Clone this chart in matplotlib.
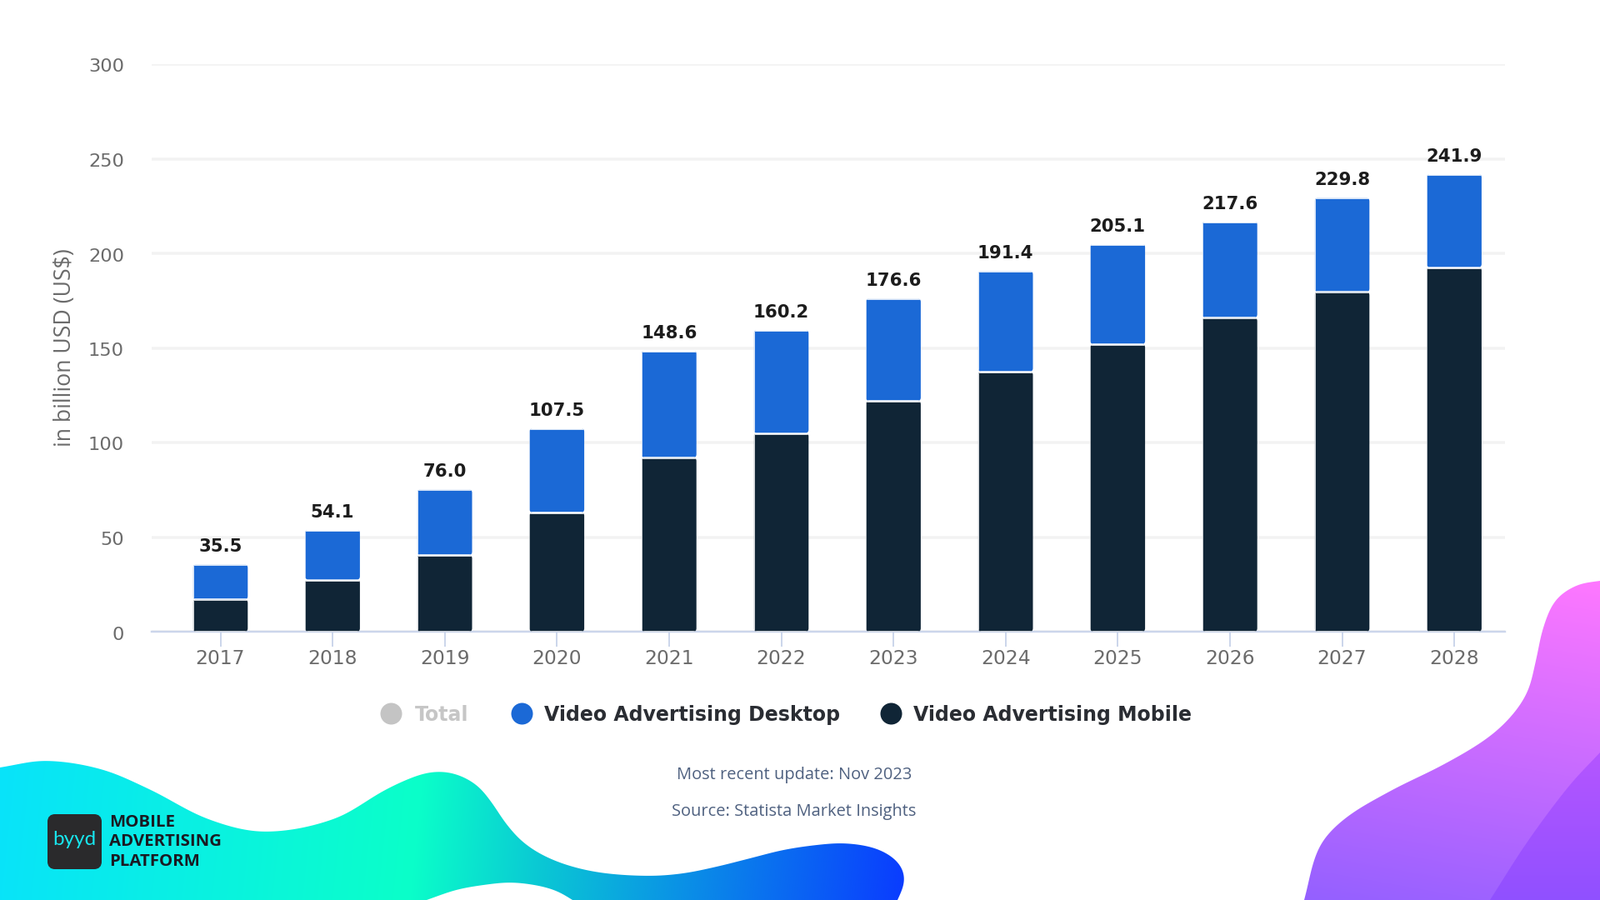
import numpy as np
import matplotlib
matplotlib.use("Agg")
import matplotlib.pyplot as plt
from matplotlib.path import Path
from matplotlib.patches import PathPatch, FancyBboxPatch
from matplotlib.transforms import ScaledTranslation
from matplotlib.colors import to_rgb

years = ["2017", "2018", "2019", "2020", "2021", "2022", "2023", "2024", "2025", "2026", "2027", "2028"]
mobile = [17.0, 27.5, 40.5, 63.0, 92.0, 105.0, 122.0, 137.5, 152.0, 166.0, 179.6, 192.6]
desktop = [18.5, 26.4, 34.7, 44.5, 56.6, 54.5, 54.1, 53.1, 53.0, 50.9, 49.7, 49.3]
totals = [35.5, 54.1, 76.0, 107.5, 148.6, 160.2, 176.6, 191.4, 205.1, 217.6, 229.8, 241.9]
yticks = [0, 50, 100, 150, 200, 250, 300]

DARK = "#102536"
BLUE = "#1b69d6"
GRID = "#f2f2f2"
AXIS = "#ccd6eb"
TICKC = "#6b6b6b"
W, H = 1920, 1080
PX = 72 / 100

fig = plt.figure(figsize=(19.2, 10.8), dpi=100, facecolor="white")

# ---------- decorative background, pixel coordinates ----------
bg = fig.add_axes([0, 0, 1, 1], zorder=0)
bg.set_xlim(0, W)
bg.set_ylim(H, 0)
bg.axis("off")


def spline(points, win=17):
    """Dense smooth outline through the traced points."""
    p = np.array(points, float)
    n = len(p)
    out = []
    for i in range(n - 1):
        p0 = p[max(i - 1, 0)]
        p1, p2 = p[i], p[i + 1]
        p3 = p[min(i + 2, n - 1)]
        seg = np.linalg.norm(p2 - p1)
        t1 = (p2 - p0) / max(np.linalg.norm(p2 - p0), 1e-6) * seg
        t2 = (p3 - p1) / max(np.linalg.norm(p3 - p1), 1e-6) * seg
        u = np.linspace(0, 1, 40, endpoint=False)[:, None]
        out.append((2 * u**3 - 3 * u**2 + 1) * p1 + (u**3 - 2 * u**2 + u) * t1
                   + (-2 * u**3 + 3 * u**2) * p2 + (u**3 - u**2) * t2)
    out.append(p[-1:])
    c = np.vstack(out)
    s = np.r_[0, np.cumsum(np.linalg.norm(np.diff(c, axis=0), axis=1))]
    grid = np.arange(0, s[-1], 2.0)
    c = np.c_[np.interp(grid, s, c[:, 0]), np.interp(grid, s, c[:, 1])]
    c = np.vstack([c, p[-1]])
    kernel = np.hanning(win + 2)[1:-1]
    kernel = kernel / kernel.sum()
    pad = win // 2
    smooth = c.copy()
    for k in range(2):
        padded = np.r_[2 * c[0, k] - c[pad:0:-1, k], c[:, k], 2 * c[-1, k] - c[-2:-pad - 2:-1, k]]
        smooth[:, k] = np.convolve(padded, kernel, mode="valid")
    return smooth


def blob(runs, ramp, angle):
    parts = [spline(r) if len(r) > 2 else np.array(r, float) for r in runs]
    verts = np.vstack(parts)
    codes = [Path.MOVETO] + [Path.LINETO] * (len(verts) - 1)
    path = Path(verts, codes, closed=False)
    xs, ys = verts[:, 0], verts[:, 1]
    x0, x1, y0, y1 = xs.min(), xs.max(), ys.min(), ys.max()
    gx, gy = np.meshgrid(np.linspace(x0, x1, 500), np.linspace(y0, y1, 300))
    a = np.radians(angle)
    t = (gx - x0) * np.cos(a) + (gy - y0) * np.sin(a)
    t = (t - t.min()) / (t.max() - t.min())
    stops = [s for s, _ in ramp]
    cols = np.array([to_rgb(c) for _, c in ramp])
    img = np.dstack([np.interp(t, stops, cols[:, k]) for k in range(3)])
    im = bg.imshow(img, extent=(x0, x1, y1, y0), aspect="auto", interpolation="bilinear", zorder=1)
    patch = PathPatch(path, transform=bg.transData, facecolor="none", edgecolor="none")
    bg.add_patch(patch)
    im.set_clip_path(patch)


left_top = [(0, 921), (55, 913), (121, 923), (179, 947), (250, 983), (318, 998), (400, 983), (464, 947),
            (503, 930), (527, 926), (550, 930), (573, 943), (590, 963), (607, 988), (627, 1010), (653, 1027),
            (687, 1040), (727, 1048), (780, 1051), (820, 1048), (860, 1040), (900, 1030), (940, 1020), (980, 1014),
            (1013, 1012), (1047, 1017), (1070, 1028), (1083, 1043), (1085, 1060), (1077, 1080)]
left_cut = [(687, 1080), (670, 1070), (647, 1063), (613, 1059), (580, 1062), (547, 1068), (512, 1080)]
blob([left_top, left_cut, [(0, 1080), (0, 921)]],
     [(0, "#08e3fa"), (0.46, "#0bffc9"), (0.60, "#0ac8d4"), (0.72, "#0a9ee2"), (1, "#0a3cff")], 6)

right_out = [(1920, 697), (1893, 702), (1867, 720), (1852, 753), (1843, 793), (1833, 830), (1813, 860), (1783, 887),
             (1733, 917), (1667, 950), (1613, 983), (1583, 1017), (1565, 1080)]
blob([right_out, [(1920, 1080), (1920, 697)]],
     [(0, "#ff78ff"), (1, "#9460ff")], 100)
right_in = [(1920, 903), (1883, 943), (1833, 1010), (1788, 1080)]
blob([right_in, [(1920, 1080), (1920, 903)]],
     [(0, "#b556ff"), (1, "#9050ff")], 90)

bg.set_xlim(0, W)
bg.set_ylim(H, 0)

# logo
bg.add_patch(FancyBboxPatch((61, 981), 57, 58, boxstyle="round,pad=0,rounding_size=5", mutation_aspect=1,
                            facecolor="#2a2a2c", edgecolor="#2a2a2c", linewidth=8 * PX, zorder=3))
bg.text(89.5, 1008, "byyd", color="#18e6ee", fontsize=17.5, family="Lato", weight="normal",
        ha="center", va="center", zorder=4)
for i, line in enumerate(["MOBILE", "ADVERTISING", "PLATFORM"]):
    bg.text(131, 987 + i * 23.3, line, color="#1a1a22", fontsize=14.7, family="Open Sans", weight="bold",
            ha="left", va="center", zorder=4)

# legend
legend_items = [("Total", "#c4c4c4", "#c6c6c6", 469, 498), ("Video Advertising Desktop", BLUE, "#2a2d33", 626, 653),
                ("Video Advertising Mobile", DARK, "#2a2d33", 1069, 1096)]
for name, col, tcol, cx, tx in legend_items:
    bg.scatter([cx], [856], s=(26 * PX) ** 2, color=col, linewidths=0, zorder=3)
    bg.text(tx, 858, name, color=tcol, fontsize=17, family="DejaVu Sans", weight="bold",
            ha="left", va="center", zorder=3)

# footer
for y, line in [(930, "Most recent update: Nov 2023"), (974, "Source: Statista Market Insights")]:
    bg.text(953, y, line, color="#4f6180", fontsize=14.4, family="Open Sans", ha="center", va="center", zorder=3)

# ---------- chart ----------
ax_l, ax_r, ax_t, ax_b = 182, 1806, 77, 758
ax = fig.add_axes([ax_l / W, 1 - ax_b / H, (ax_r - ax_l) / W, (ax_b - ax_t) / H], zorder=2)
ax.patch.set_alpha(0)
x = np.arange(len(years))
step = 134.6
ax.set_xlim(-(264.5 - ax_l) / step, (ax_r - ax_l - (264.5 - ax_l)) / step)
ax.set_ylim(0, 300)

for s in ["top", "left", "right"]:
    ax.spines[s].set_visible(False)
ax.spines["bottom"].set_color(AXIS)
ax.spines["bottom"].set_linewidth(2.4 * PX)
ax.set_axisbelow(True)
ax.yaxis.grid(True, color=GRID, linewidth=3.5 * PX)
ax.xaxis.grid(False)

bar_w = 68 / step
lw = 2.6 * PX
b1 = ax.bar(x, mobile, width=bar_w, color=DARK, edgecolor="white", linewidth=lw, zorder=3)
b2 = ax.bar(x, desktop, width=bar_w, bottom=mobile, color=BLUE, edgecolor="white", linewidth=lw, zorder=3)

aspect = step / ((ax_b - ax_t) / 300)
for bars in (b1, b2):
    for r in bars:
        clip = FancyBboxPatch((r.get_x() + 1.2 / step, r.get_y()), r.get_width() - 2.4 / step, r.get_height(),
                              boxstyle="round,pad=0,rounding_size=%f" % (4 / step), mutation_aspect=aspect,
                              transform=ax.transData)
        r.set_clip_path(clip)

for xi, t, m, d in zip(x, totals, mobile, desktop):
    ax.annotate(f"{t:.1f}", (xi, m + d), xytext=(0, 11 * PX), textcoords="offset points", ha="center", va="bottom",
                fontsize=15.3, weight="bold", color="#1c1c1c", family="DejaVu Sans", zorder=5, annotation_clip=False)

ax.set_xticks(x, years)
ax.set_yticks(yticks)
ax.tick_params(axis="x", length=18 * PX, width=2 * PX, color=AXIS, pad=3 * PX, labelsize=16.8, labelcolor=TICKC)
ax.tick_params(axis="y", length=0, pad=33 * PX, labelsize=16.2, labelcolor=TICKC)
for lab in ax.get_yticklabels():
    lab.set_transform(lab.get_transform() + ScaledTranslation(0, -1.5 / 100, fig.dpi_scale_trans))

fig.text(78 / W, 1 - 417 / H, "in billion USD (US$)", rotation=90, ha="center", va="center", fontsize=19.2,
         family="Open Sans", color="#6b6b6b", zorder=5)

fig.savefig("out.png", dpi=100, facecolor="white")
